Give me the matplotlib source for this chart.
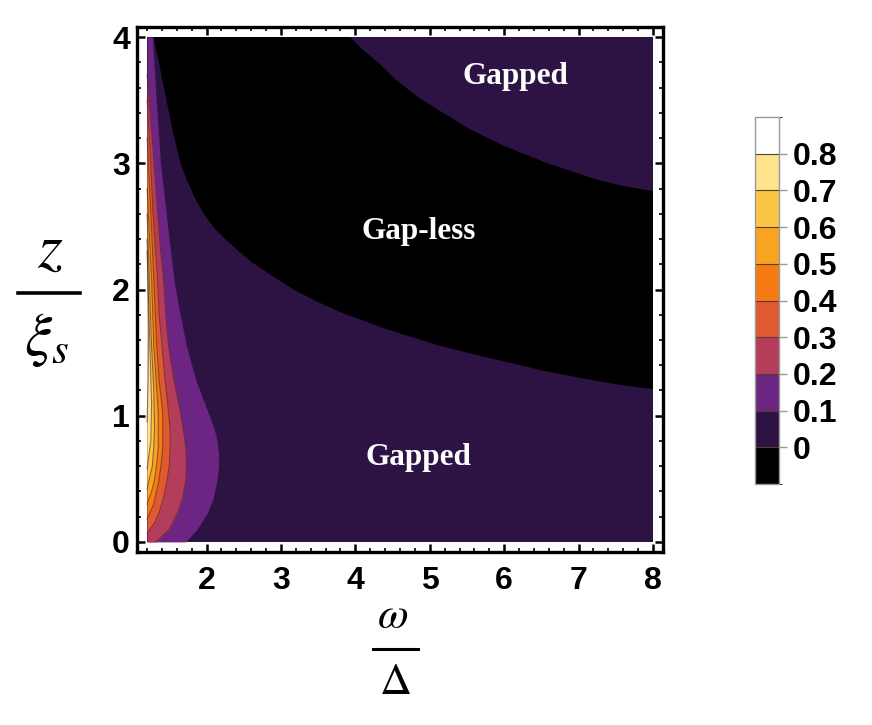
import matplotlib
matplotlib.use("Agg")
import matplotlib.pyplot as plt
import numpy as np
from matplotlib.colors import ListedColormap, BoundaryNorm
from matplotlib.lines import Line2D
import matplotlib.colorbar as mcolorbar

plt.rcParams['font.family'] = ['Liberation Sans', 'DejaVu Sans']
plt.rcParams['mathtext.fontset'] = 'stix'

######################
# contour boundaries (omega/Delta , z/xi_s)

x_min, x_max = 1.2, 8.0
y_min, y_max = 0.0, 4.0

# lower edge of the gap-less (black) region
gl_low_x = [1.29, 1.32, 1.36, 1.40, 1.45, 1.54, 1.65, 1.74, 1.83, 1.96, 2.10, 2.25, 2.40, 2.60,
            2.90, 3.20, 3.50, 3.80, 4.40, 5.10, 5.50, 6.00, 6.50, 7.11, 7.50, 8.00]
gl_low_y = [4.00, 3.90, 3.80, 3.67, 3.53, 3.27, 3.00, 2.86, 2.74, 2.60, 2.49, 2.40, 2.32, 2.22,
            2.10, 1.99, 1.90, 1.82, 1.69, 1.56, 1.50, 1.43, 1.36, 1.29, 1.25, 1.21]
# upper edge of the gap-less region
gl_up_x = [3.93, 4.10, 4.30, 4.55, 4.83, 5.15, 5.54, 5.99, 6.58, 7.25, 7.60, 8.00]
gl_up_y = [4.00, 3.90, 3.80, 3.66, 3.53, 3.41, 3.27, 3.14, 3.00, 2.87, 2.82, 2.78]

# level curves near the left edge (value >= level between x_min and the curve)
lev_vals = [0.1, 0.2, 0.3, 0.4, 0.5, 0.6, 0.7, 0.8]
lev_y = [
    [0, 0.1, 0.23, 0.35, 0.49, 0.6, 0.7, 0.8, 0.9, 1.07, 1.29, 1.55, 1.81, 2.08, 2.48, 3.0, 3.53, 4.0],
    [0, 0.1, 0.23, 0.35, 0.49, 0.62, 0.75, 0.88, 1.02, 1.29, 1.55, 1.81, 2.08, 2.32, 2.7, 3.11, 3.4, 3.7],
    [0.07, 0.15, 0.23, 0.35, 0.49, 0.62, 0.75, 0.88, 1.02, 1.29, 1.55, 1.81, 2.08, 2.6, 3.1, 3.5],
    [0.18, 0.3, 0.49, 0.62, 0.75, 0.88, 1.02, 1.29, 1.55, 2.08, 2.6, 3.2],
    [0.3, 0.4, 0.49, 0.62, 0.75, 1.02, 1.29, 1.55, 2.08, 2.8],
    [0.42, 0.6, 0.75, 0.9, 1.2, 1.55, 2.08, 2.6],
    [0.58, 0.8, 1.1, 1.5, 2.0, 2.4],
    [0.95, 1.3, 1.7, 2.1, 2.3],
]
lev_x = [
    [1.72, 1.87, 2.01, 2.09, 2.14, 2.16, 2.16, 2.14, 2.10, 1.99, 1.85, 1.73, 1.64, 1.56, 1.48, 1.38, 1.32, 1.27],
    [1.32, 1.50, 1.61, 1.68, 1.72, 1.73, 1.72, 1.69, 1.65, 1.56, 1.49, 1.45, 1.42, 1.38, 1.33, 1.28, 1.24, 1.20],
    [1.20, 1.30, 1.36, 1.42, 1.47, 1.50, 1.51, 1.51, 1.49, 1.44, 1.40, 1.36, 1.34, 1.28, 1.24, 1.20],
    [1.20, 1.29, 1.36, 1.39, 1.41, 1.41, 1.41, 1.36, 1.33, 1.29, 1.25, 1.20],
    [1.20, 1.26, 1.30, 1.33, 1.35, 1.35, 1.32, 1.29, 1.26, 1.20],
    [1.20, 1.27, 1.29, 1.30, 1.29, 1.26, 1.23, 1.20],
    [1.20, 1.25, 1.26, 1.24, 1.215, 1.20],
    [1.20, 1.215, 1.22, 1.21, 1.20],
]

cbar_bounds = [-0.1, 0, 0.1, 0.2, 0.3, 0.4, 0.5, 0.6, 0.7, 0.8, 0.9]
cbar_ticks = [0, 0.1, 0.2, 0.3, 0.4, 0.5, 0.6, 0.7, 0.8]
cbar_labels = ['0', '0.1', '0.2', '0.3', '0.4', '0.5', '0.6', '0.7', '0.8']
band_colors = ['#000000', '#2c1343', '#6c2583', '#b43d5c', '#df5933',
               '#f67b15', '#f9a420', '#fbc444', '#fde48c', '#ffffff']

######################

fig = plt.figure(figsize=(8.72, 7.25), dpi=100)
ax = fig.add_axes([137/872, 1-552/725, 526/872, 525/725])

pad_x = 0.02*(x_max-x_min)
pad_y = 0.02*(y_max-y_min)
ax.set_xlim(x_min-pad_x, x_max+pad_x)
ax.set_ylim(y_min-pad_y, y_max+pad_y)

# background (0 - 0.1)
ax.fill_between([x_min, x_max], y_min, y_max, color=band_colors[1], lw=0)

# gap-less region
poly_x = gl_low_x + gl_up_x[::-1]
poly_y = gl_low_y + gl_up_y[::-1]
ax.fill(poly_x, poly_y, color=band_colors[0], lw=0)

for i, lv in enumerate(lev_vals):
    ax.fill_betweenx(lev_y[i], x_min, lev_x[i], color=band_colors[i+2], lw=0)
for i, lv in enumerate(lev_vals):
    if lv >= 0.2:
        ax.plot(lev_x[i], lev_y[i], color='#4a1f22', lw=0.8, alpha=0.6)

txt_kw = dict(color='white', fontsize=22.5, fontweight='bold', family='Liberation Serif',
              ha='center', va='center')
ax.text(6.15, 3.69, 'Gapped', **txt_kw)
ax.text(4.85, 2.46, 'Gap-less', **txt_kw)
ax.text(4.85, 0.67, 'Gapped', **txt_kw)

ax.set_xticks([2, 3, 4, 5, 6, 7, 8])
ax.set_yticks([0, 1, 2, 3, 4])
ax.set_xticks(np.arange(1.2, 8.01, 0.2), minor=True)
ax.set_yticks(np.arange(0, 4.01, 0.2), minor=True)
ax.tick_params(which='both', direction='in', top=True, right=True, colors='black')
ax.tick_params(which='major', length=6, width=1.8, labelsize=23)
ax.tick_params(which='minor', length=3, width=1.2)
ax.tick_params(axis='x', which='major', pad=10)
ax.tick_params(axis='y', which='major', pad=5)
for lab in ax.get_xticklabels() + ax.get_yticklabels():
    lab.set_fontweight('bold')
for s in ax.spines.values():
    s.set_linewidth(2.4)

# axis labels as stacked fractions
fig.text(393/872, 1-616/725, r'$\omega$', fontsize=32, ha='center', va='center')
fig.add_artist(Line2D([373/872, 418/872], [1-649/725, 1-649/725], color='black', lw=2.2))
fig.text(395/872, 1-683/725, r'$\Delta$', fontsize=32, ha='center', va='center')

fig.text(50/872, 1-250/725, r'$z$', fontsize=46, ha='center', va='center')
fig.add_artist(Line2D([18/872, 80/872], [1-293/725, 1-293/725], color='black', lw=2.6))
fig.text(47/872, 1-340/725, r'$\xi_s$', fontsize=44, ha='center', va='center')

# colour bar
cax = fig.add_axes([755/872, 1-484/725, 24/872, 367/725])
cmap = ListedColormap(band_colors)
norm = BoundaryNorm(cbar_bounds, cmap.N)
cb = mcolorbar.ColorbarBase(cax, cmap=cmap, norm=norm, boundaries=cbar_bounds,
                            ticks=cbar_ticks, drawedges=True)
cb.set_ticklabels(cbar_labels)
cb.outline.set_edgecolor('#999999')
cb.outline.set_linewidth(1.0)
cb.dividers.set_color('#5a3a2a')
cb.dividers.set_linewidth(0.8)
cax.tick_params(length=6, width=1, color='#999999', labelsize=23, pad=4)
for lab in cax.get_yticklabels():
    lab.set_fontweight('bold')

fig.savefig('out.png', dpi=100)
